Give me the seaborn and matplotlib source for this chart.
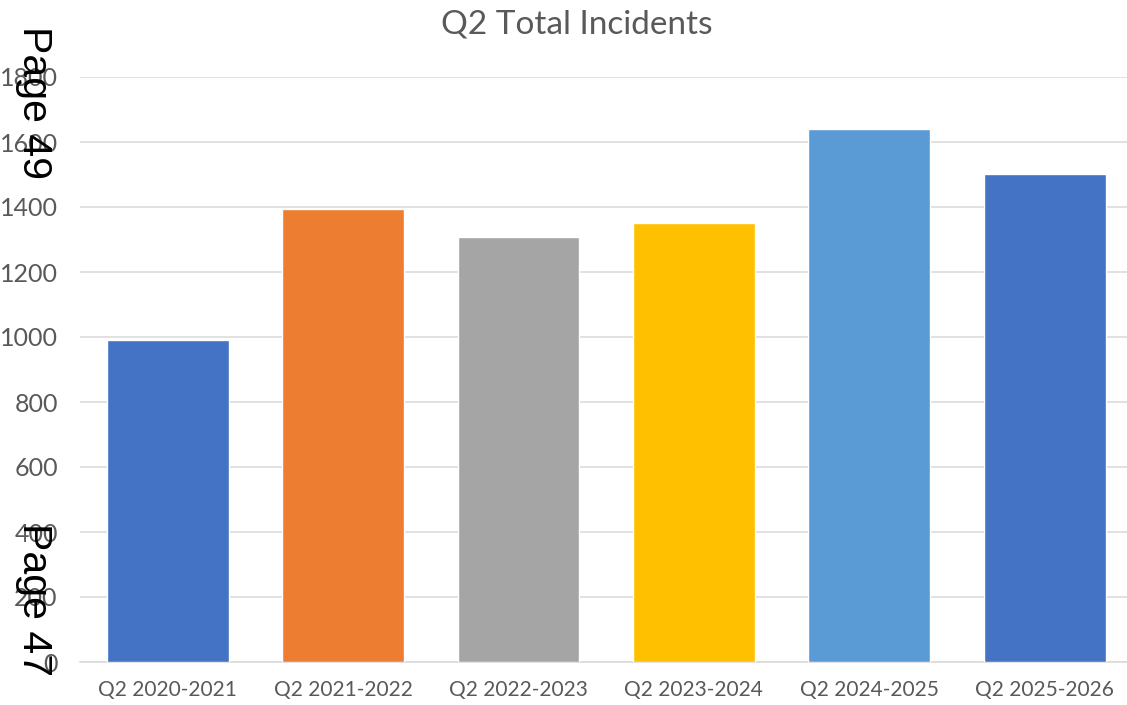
import matplotlib
matplotlib.use("Agg")
import matplotlib.pyplot as plt
import pandas as pd
import seaborn as sns

sns.set_theme(style="white")
plt.rcParams['font.family'] = ['Lato', 'DejaVu Sans']

# data
periods = ["Q2 2020-2021", "Q2 2021-2022", "Q2 2022-2023",
           "Q2 2023-2024", "Q2 2024-2025", "Q2 2025-2026"]
incidents = [990, 1395, 1308, 1352, 1640, 1503]
bar_colors = ["#4472C4", "#ED7D31", "#A5A5A5", "#FFC000", "#5B9BD5", "#4472C4"]
y_ticks = [0, 200, 400, 600, 800, 1000, 1200, 1400, 1600, 1800]

df = pd.DataFrame({"period": periods, "incidents": incidents})

text_grey = "#595959"
grid_grey = "#D9D9D9"

fig = plt.figure(figsize=(11.27, 7.05), dpi=100)
ax = fig.add_axes([80 / 1127, 43 / 705, 1052.4 / 1127, 585 / 705])

sns.barplot(data=df, x="period", y="incidents", hue="period",
            palette=bar_colors, legend=False, width=0.695,
            saturation=1, ax=ax, zorder=3)

ax.set_ylim(0, 1800)
ax.set_xlim(-0.5, 5.5)
ax.set_yticks(y_ticks)
ax.set_yticklabels([str(t) for t in y_ticks])
ax.yaxis.grid(True, color=grid_grey, linewidth=1.1, zorder=0)
ax.set_axisbelow(True)
for s in ["top", "right", "left"]:
    ax.spines[s].set_visible(False)
ax.spines["bottom"].set_color(grid_grey)
ax.spines["bottom"].set_linewidth(1.1)
ax.tick_params(axis="both", length=0, labelcolor=text_grey)
ax.tick_params(axis="y", pad=16, labelsize=18)
ax.tick_params(axis="x", pad=13, labelsize=15)
ax.set_xlabel("")
ax.set_ylabel("")

fig.text(577 / 1127, 1 - 33 / 705, "Q2 Total Incidents", ha="center",
         va="baseline", fontsize=24, color=text_grey)

# page stamps overlaid on the left
fig.text(34 / 1127, 1 - 103 / 705, "Page 49", rotation=-90, ha="center",
         va="center", fontsize=29.5, color="black", family="Liberation Sans")
fig.text(34 / 1127, 1 - 600 / 705, "Page 47", rotation=-90, ha="center",
         va="center", fontsize=29.5, color="black", family="Liberation Sans")

fig.savefig("out.png", dpi=100)
